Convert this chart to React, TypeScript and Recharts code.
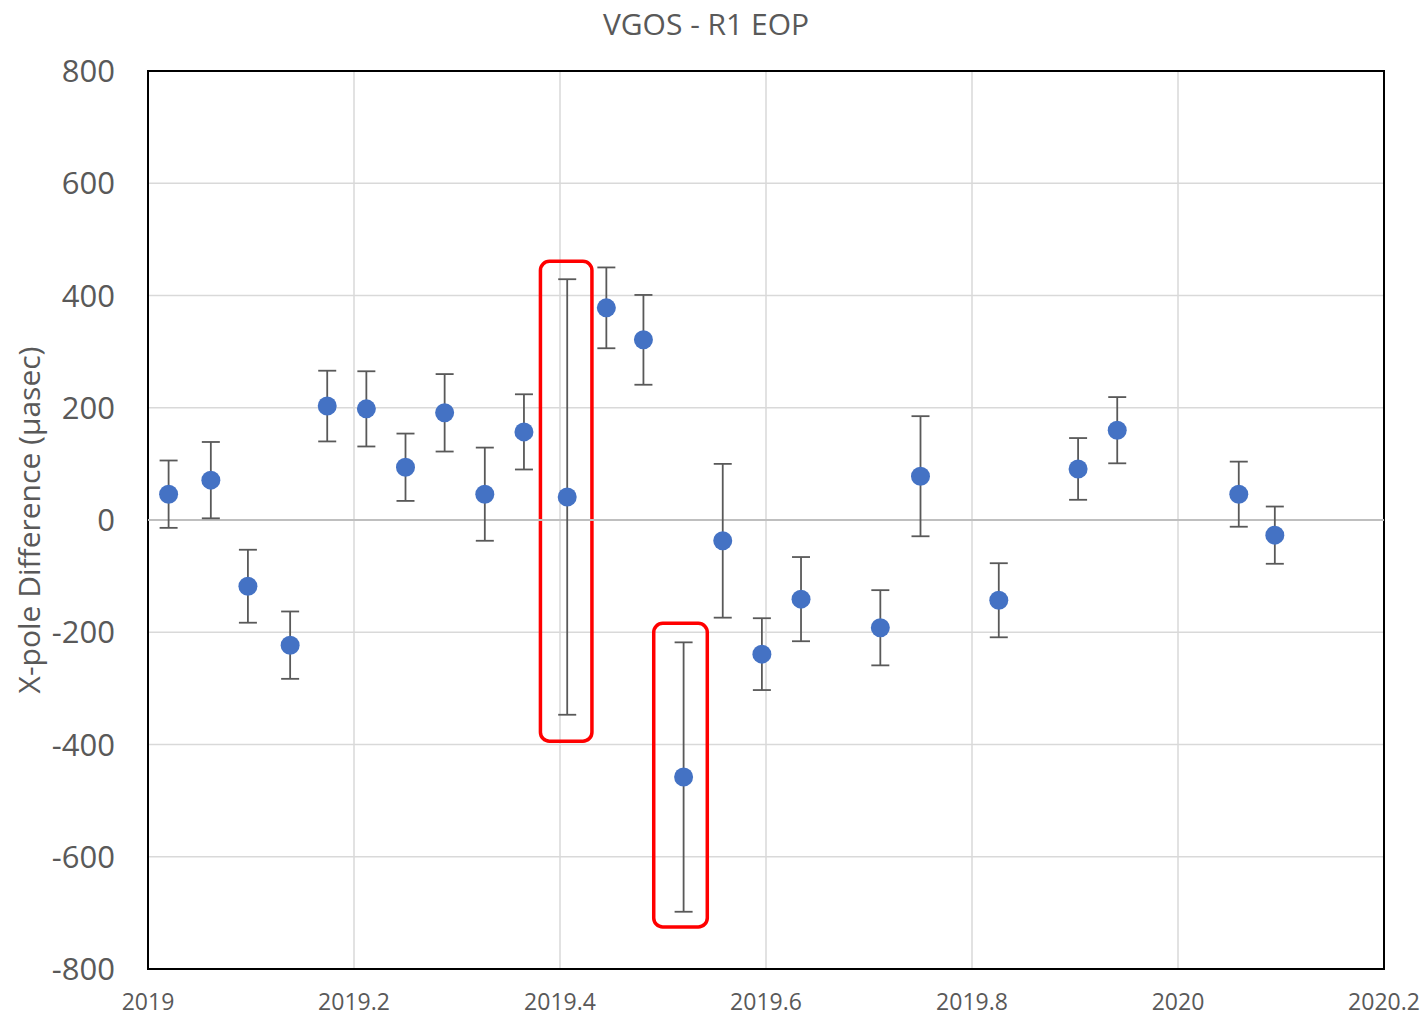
import {
  ScatterChart, Scatter, XAxis, YAxis, CartesianGrid, ErrorBar,
  ReferenceArea, ReferenceLine, Label
} from 'recharts';

const epochs = [
  2019.020, 2019.061, 2019.097, 2019.138, 2019.174, 2019.212, 2019.250, 2019.288,
  2019.327, 2019.365, 2019.407, 2019.445, 2019.481, 2019.520, 2019.558, 2019.596,
  2019.634, 2019.711, 2019.750, 2019.826, 2019.903, 2019.941, 2020.059, 2020.094,
];
const xpoleDiff = [
  46, 71, -118, -223, 203, 198, 94, 191,
  46, 157, 41, 378, 321, -458, -37, -239,
  -141, -192, 78, -143, 91, 160, 46, -27,
];
const sigma = [
  60, 68, 65, 60, 63, 67, 60, 69,
  83, 67, 388, 72, 80, 240, 137, 64,
  75, 67, 107, 66, 55, 59, 58, 51,
];
const xTicks = [2019, 2019.2, 2019.4, 2019.6, 2019.8, 2020, 2020.2];
const yTicks = [-800, -600, -400, -200, 0, 200, 400, 600, 800];

// flagged sessions (red boxes): [x1, x2, y1, y2]
const flagged = [
  [2019.381, 2019.431, -394, 461],
  [2019.491, 2019.543, -725, -184],
];

const points = epochs.map((x, i) => ({ x, y: xpoleDiff[i], err: sigma[i] }));

const FONT = '"Open Sans", sans-serif';
const GREY = '#595959';

const fmtYear = (v: number) => String(Math.round(v * 10) / 10);

const Dot = (p: any) => <circle cx={p.cx} cy={p.cy} r={9.5} fill="#4472C4" />;

const Box = (p: any) => (
  <rect x={p.x} y={p.y} width={p.width} height={p.height} rx={9}
    fill="none" stroke="#ff0000" strokeWidth={3.5} />
);

export default function App() {
  return (
    <div style={{ position: 'absolute', left: 0, top: 0, width: 1426, height: 1019, fontFamily: FONT, background: '#fff' }}>
      <div style={{ position: 'absolute', top: 4, left: 0, width: 1412, textAlign: 'center', fontSize: 30, color: GREY, lineHeight: '40px' }}>
        VGOS - R1 EOP
      </div>
      <ScatterChart width={1426} height={1019} margin={{ top: 71, right: 42, bottom: 0, left: 0 }}>
        <CartesianGrid stroke="#d9d9d9" strokeWidth={1.5} />
        <XAxis
          type="number" dataKey="x" domain={[2019, 2020.2]} ticks={xTicks}
          tickFormatter={fmtYear} axisLine={false} tickLine={false} tickSize={0}
          tickMargin={25} height={50} allowDataOverflow
          tick={{ fill: GREY, fontSize: 23, fontFamily: FONT }}
        />
        <YAxis
          type="number" dataKey="y" domain={[-800, 800]} ticks={yTicks}
          axisLine={false} tickLine={false} tickSize={0} tickMargin={33} width={148}
          tick={{ fill: GREY, fontSize: 31, fontFamily: FONT }}
        >
          <Label
            content={(p: any) => {
              const cy = p.viewBox.y + p.viewBox.height / 2;
              return (
                <text x={28} y={cy} transform={`rotate(-90, 28, ${cy})`} textAnchor="middle"
                  dominantBaseline="central" fill={GREY} fontSize={30} fontFamily={FONT}>
                  X-pole Difference (µasec)
                </text>
              );
            }}
          />
        </YAxis>
        <ReferenceLine y={0} stroke="#bfbfbf" strokeWidth={2} />
        <ReferenceArea x1={2019} x2={2020.2} y1={-800} y2={800} fill="none" stroke="#000" strokeWidth={2} />
        <Scatter data={points} shape={Dot} isAnimationActive={false}>
          <ErrorBar dataKey="err" direction="y" width={9} stroke="#595959" strokeWidth={1.8} isAnimationActive={false} />
        </Scatter>
        {flagged.map((f, i) => (
          <ReferenceArea key={i} x1={f[0]} x2={f[1]} y1={f[2]} y2={f[3]} shape={Box} />
        ))}
      </ScatterChart>
    </div>
  );
}
